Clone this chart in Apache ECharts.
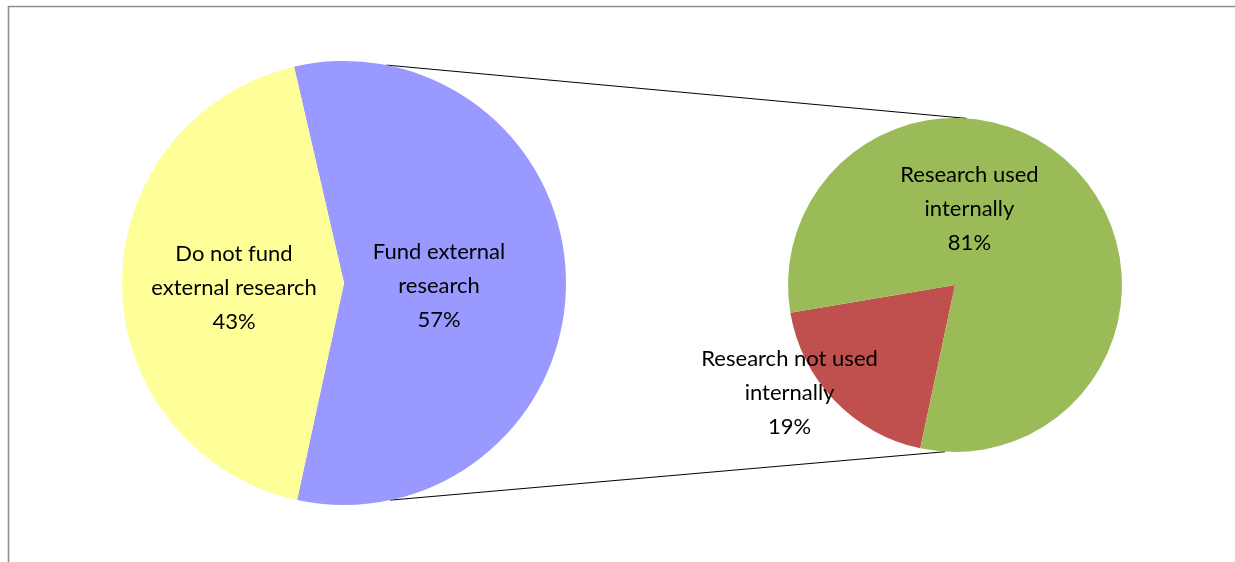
<!DOCTYPE html>
<html>
<head>
<meta charset="utf-8">
<script src="https://cdn.jsdelivr.net/npm/echarts@6/dist/echarts.min.js"></script>
<style>html,body{margin:0;padding:0;background:#fff}#c{width:1235px;height:562px}</style>
</head>
<body>
<div id="c"></div>
<script>
// Data
var mainCategories = ['Fund external\nresearch', 'Do not fund\nexternal research'];
var mainValues = [57, 43];
var subCategories = ['Research not used\ninternally', 'Research used\ninternally'];
var subValues = [19, 81];

var mainColors = ['#9999FF', '#FFFF99'];
var subColors = ['#C0504D', '#9BBB59'];

// Layout
var mainCenter = [344, 283], mainR = 222;
var subCenter = [955, 285], subR = 167;
var mainLabelShift = [[-19, 4], [4, 4]];
var subLabelShift = [[-103, 48], [-48, -16]];
// connector attachment angles (degrees, math convention)
var connMain = [79, -78], connSub = [86, -93.4];

function pt(c, r, deg) {
  var a = deg * Math.PI / 180;
  return [c[0] + r * Math.cos(a), c[1] - r * Math.sin(a)];
}

var labelStyle = {
  show: true, position: 'inside', color: '#000', fontFamily: 'Lato, "Open Sans", sans-serif',
  fontSize: 22, lineHeight: 34, align: 'center', textBorderWidth: 0,
  formatter: function (p) { return p.name + '\n' + p.value + '%'; }
};

var chart = echarts.init(document.getElementById('c'), null, {renderer: 'canvas'});
var p1 = pt(mainCenter, mainR, connMain[0]), p2 = pt(subCenter, subR, connSub[0]);
var p3 = pt(mainCenter, mainR, connMain[1]), p4 = pt(subCenter, subR, connSub[1]);

chart.setOption({
  animation: false,
  graphic: [
    {type: 'line', shape: {x1: 8, y1: 6.5, x2: 1235, y2: 6.5}, style: {stroke: '#8e8e8e', lineWidth: 1.6}},
    {type: 'line', shape: {x1: 8.5, y1: 6, x2: 8.5, y2: 562}, style: {stroke: '#8e8e8e', lineWidth: 1.6}},
    {type: 'line', z: -1, shape: {x1: p1[0], y1: p1[1], x2: p2[0], y2: p2[1]}, style: {stroke: '#000', lineWidth: 1}},
    {type: 'line', z: -1, shape: {x1: p3[0], y1: p3[1], x2: p4[0], y2: p4[1]}, style: {stroke: '#000', lineWidth: 1}}
  ],
  series: [
    {
      type: 'pie', center: mainCenter, radius: mainR, startAngle: 103, clockwise: true,
      silent: true, label: labelStyle, labelLine: {show: false},
      itemStyle: {borderWidth: 0},
      labelLayout: function (p) { return {dx: mainLabelShift[p.dataIndex][0], dy: mainLabelShift[p.dataIndex][1]}; },
      data: mainCategories.map(function (n, i) { return {name: n, value: mainValues[i], itemStyle: {color: mainColors[i]}}; })
    },
    {
      type: 'pie', center: subCenter, radius: subR, startAngle: 258, clockwise: true,
      silent: true, label: labelStyle, labelLine: {show: false},
      itemStyle: {borderWidth: 0},
      labelLayout: function (p) { return {dx: subLabelShift[p.dataIndex][0], dy: subLabelShift[p.dataIndex][1]}; },
      data: subCategories.map(function (n, i) { return {name: n, value: subValues[i], itemStyle: {color: subColors[i]}}; })
    }
  ]
});
</script>
</body>
</html>
